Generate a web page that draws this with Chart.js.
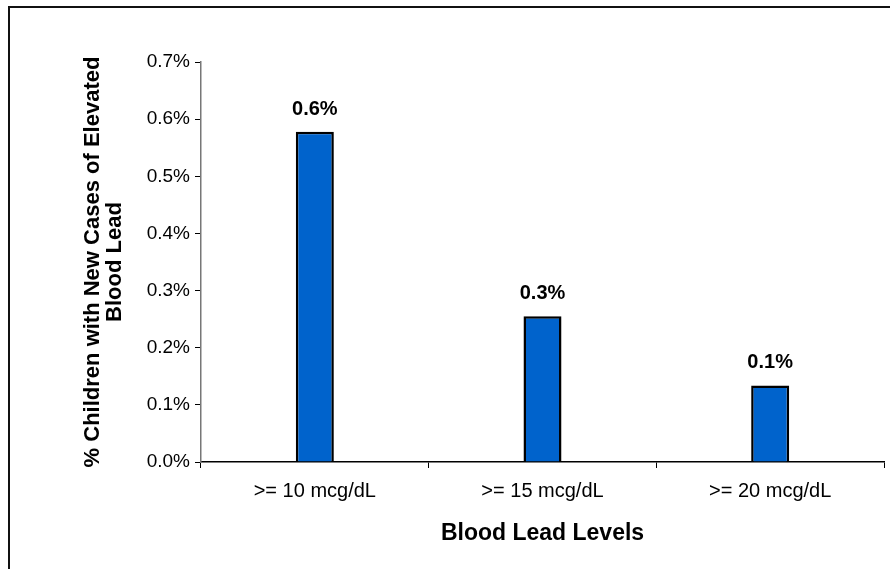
<!DOCTYPE html>
<html>
<head>
<meta charset="utf-8">
<script src="https://cdn.jsdelivr.net/npm/chart.js@4/dist/chart.umd.min.js"></script>
<style>
html,body{margin:0;padding:0;background:#fff;}
#wrap{width:890px;height:569px;position:relative;}
</style>
</head>
<body>
<div id="wrap"><canvas id="c" width="890" height="569"></canvas></div>
<script>
const categories = [">= 10 mcg/dL", ">= 15 mcg/dL", ">= 20 mcg/dL"];
const percentValues = [0.578, 0.255, 0.134];
const yTickMax = 0.7;
const yTickStep = 0.1;
const yTitle = ["% Children with New Cases of Elevated", "Blood Lead"];
const xTitle = "Blood Lead Levels";

const FONT = "Arial, 'Liberation Sans', sans-serif";

const framePlugin = {
  id: 'frame',
  beforeDraw(chart) {
    const ctx = chart.ctx;
    ctx.save();
    ctx.fillStyle = '#fff';
    ctx.fillRect(0, 0, chart.width, chart.height);
    ctx.strokeStyle = '#111';
    ctx.lineWidth = 2;
    ctx.strokeRect(9, 7, 900, 600);
    ctx.restore();
  }
};

const labelPlugin = {
  id: 'vlabels',
  afterDatasetsDraw(chart) {
    const ctx = chart.ctx;
    const meta = chart.getDatasetMeta(0);
    ctx.save();
    ctx.font = "bold 20px " + FONT;
    ctx.fillStyle = '#000';
    ctx.textAlign = 'center';
    ctx.textBaseline = 'alphabetic';
    meta.data.forEach((bar, i) => {
      const v = chart.data.datasets[0].data[i];
      ctx.fillText(v.toFixed(1) + '%', bar.x, bar.y - 17);
    });
    ctx.restore();
  }
};

new Chart(document.getElementById('c'), {
  type: 'bar',
  data: {
    labels: categories,
    datasets: [{
      data: percentValues,
      backgroundColor: '#0063CC',
      borderColor: '#000',
      borderWidth: 2.5,
      categoryPercentage: 1,
      barPercentage: 0.167
    }]
  },
  options: {
    responsive: false,
    animation: false,
    devicePixelRatio: 1,
    layout: { padding: { left: 0, top: 62, right: 6, bottom: 0 } },
    plugins: { legend: { display: false }, tooltip: { enabled: false } },
    scales: {
      x: {
        grid: { display: true, drawOnChartArea: false, drawTicks: true, tickLength: 6, color: '#000', offset: true },
        border: { display: true, color: '#000', width: 1.5 },
        ticks: { color: '#000', font: { family: FONT, size: 20 }, padding: 11, maxRotation: 0 },
        title: { display: true, text: xTitle, color: '#000', font: { family: FONT, size: 23, weight: 'bold', lineHeight: 1.0 }, padding: { top: 0, bottom: 24 } },
        afterFit(scale) { scale.height = 569 - 462; }
      },
      y: {
        min: 0, max: yTickMax,
        grid: { display: true, drawOnChartArea: false, drawTicks: true, tickLength: 6, color: '#000' },
        border: { display: true, color: '#777', width: 1.5 },
        ticks: { stepSize: yTickStep, color: '#000', font: { family: FONT, size: 19 }, padding: 5,
          callback: v => v.toFixed(1) + '%' },
        title: { display: true, text: yTitle, color: '#000', font: { family: FONT, size: 22, weight: 'bold', lineHeight: 1.0 }, padding: { top: 82, bottom: 0 } },
        afterFit(scale) { scale.width = 201; }
      }
    }
  },
  plugins: [framePlugin, labelPlugin]
});
</script>
</body>
</html>
